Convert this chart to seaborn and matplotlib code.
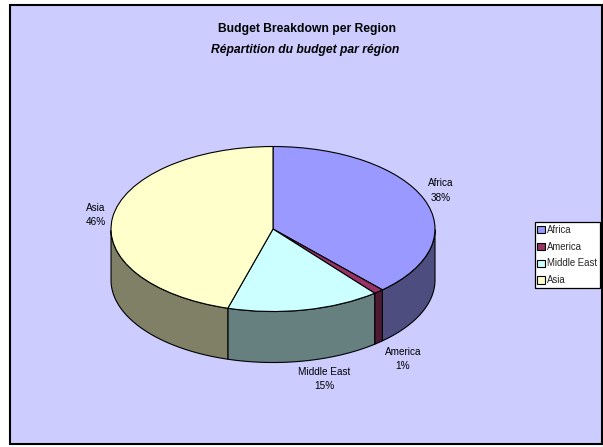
import numpy as np
import matplotlib
matplotlib.use('Agg')
import matplotlib.pyplot as plt
import seaborn as sns
from matplotlib.patches import Patch, Rectangle

regions = ['Africa', 'America', 'Middle East', 'Asia']
shares = [38.2, 1.0, 15.3, 45.5]
share_labels = ['38%', '1%', '15%', '46%']
top_colors = ['#9999FF', '#993366', '#CCFFFF', '#FFFFCC']
side_colors = ['#4D4D80', '#4D1A33', '#668080', '#808066']
title_en = 'Budget Breakdown per Region'
title_fr = 'Répartition du budget par région'

sns.set_theme(style='white')
plt.rcParams['font.family'] = ['Liberation Sans', 'DejaVu Sans']

W, H = 603, 447
fig = plt.figure(figsize=(W / 100, H / 100), dpi=100, facecolor='white')

# background panel with black border
fig.add_artist(Rectangle((10 / W, 1 - 444 / H), 591.5 / W, 439.5 / H, transform=fig.transFigure,
                         facecolor='#CCCCFF', edgecolor='black', linewidth=1.5, zorder=-1))

# axes sized so radius 1 is 162 px wide and 82.5 px tall
rx, ry = 162, 82.5
cx, cy = 273, 229
depth = 51 / ry
ax = fig.add_axes([(cx - 1.25 * rx) / W, (H - cy - 1.9 * ry) / H, 2.5 * rx / W, 3.15 * ry / H])
ax.patch.set_alpha(0)

# side wall first, clockwise from 12 o'clock like the pie
edges = np.cumsum([0] + shares) / sum(shares) * 2 * np.pi
for i in range(len(shares)):
    t = np.linspace(edges[i], edges[i + 1], 100)
    x, y = np.sin(t), np.cos(t)
    front = y <= 0.001
    if front.sum() < 2:
        continue
    xs = np.r_[x[front], x[front][::-1]]
    ys = np.r_[y[front], y[front][::-1] - depth]
    ax.fill(xs, ys, facecolor=side_colors[i], edgecolor='black', linewidth=0.8, zorder=1)

ax.pie(shares, colors=top_colors, startangle=90, counterclock=False, radius=1,
       wedgeprops=dict(edgecolor='black', linewidth=0.8, zorder=2))
ax.set_aspect('auto')
ax.set_xlim(-1.25, 1.25)
ax.set_ylim(-1.9, 1.25)
ax.set_axis_off()


def px(x, y):
    return x / W, 1 - y / H


# slice labels
label_pos = [(441, 190.5), (403, 359), (324, 379), (96, 215)]
for name, val, pos in zip(regions, share_labels, label_pos):
    fig.text(*px(*pos), f'{name}\n{val}', ha='center', va='center', fontsize=7.2,
             color='black', linespacing=1.55)

fig.text(*px(306.5, 29), title_en, ha='center', va='center', fontsize=8.7, fontweight='bold', color='black')
fig.text(*px(305.5, 50), title_fr, ha='center', va='center', fontsize=8.75, fontweight='bold',
         style='italic', color='black')

handles = [Patch(facecolor=c, edgecolor='black', linewidth=0.8) for c in top_colors]
leg = fig.legend(handles, regions, loc='center left', bbox_to_anchor=(535 / W, 1 - 255 / H),
                 fontsize=6.9, frameon=True, fancybox=False, framealpha=1, facecolor='white',
                 edgecolor='black', handlelength=0.75, handleheight=0.75, handletextpad=0.25,
                 labelspacing=0.72, borderpad=0.25, borderaxespad=0)
leg.get_frame().set_linewidth(0.9)

fig.savefig('out.png', dpi=100)
